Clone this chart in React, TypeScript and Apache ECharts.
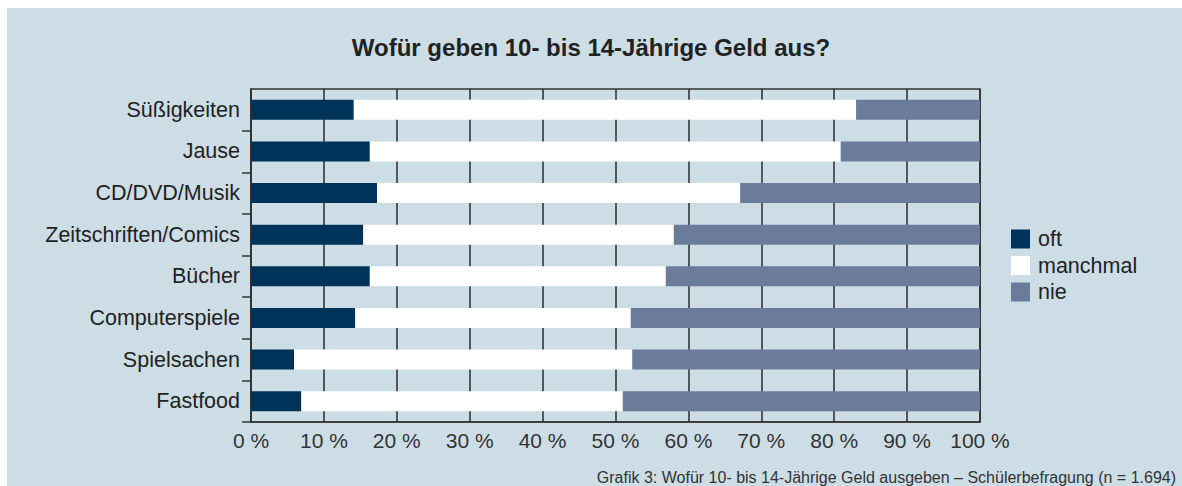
import React, { useEffect, useRef } from "react";
import * as echarts from "echarts";

const categories = [
  "Süßigkeiten",
  "Jause",
  "CD/DVD/Musik",
  "Zeitschriften/Comics",
  "Bücher",
  "Computerspiele",
  "Spielsachen",
  "Fastfood",
];
const oft = [14.1, 16.3, 17.3, 15.4, 16.3, 14.3, 5.9, 6.9];
const manchmal = [68.9, 64.6, 49.8, 42.6, 40.6, 37.8, 46.4, 44.1];
const nie = [17.0, 19.1, 32.9, 42.0, 43.1, 47.9, 47.7, 49.0];
const xTicks = [0, 10, 20, 30, 40, 50, 60, 70, 80, 90, 100];

const FONT = "Liberation Sans, Arial, Helvetica, sans-serif";

export default function App() {
  const ref = useRef<HTMLDivElement>(null);
  useEffect(() => {
    document.body.style.margin = "0";
    const chart = echarts.init(ref.current!, null, { renderer: "svg" });
    chart.setOption({
      animation: false,
      backgroundColor: "#ffffff",
      textStyle: { fontFamily: FONT },
      graphic: [
        {
          type: "rect",
          z: -10,
          silent: true,
          shape: { x: 7, y: 8, width: 1182 - 7, height: 486 - 8 },
          style: { fill: "#ccdde6" },
        },
      ],
      title: [
        {
          text: "Wofür geben 10- bis 14-Jährige Geld aus?",
          left: "center",
          top: 30,
          textStyle: { fontSize: 24, fontWeight: "bold", color: "#222", fontFamily: FONT },
        },
        {
          text: "Grafik 3: Wofür 10- bis 14-Jährige Geld ausgeben – Schülerbefragung (n = 1.694)",
          right: 6,
          top: 469,
          padding: 0,
          textStyle: { fontSize: 16, fontWeight: "normal", color: "#333", fontFamily: FONT },
        },
      ],
      legend: {
        orient: "vertical",
        left: 1011,
        top: 228,
        itemWidth: 19,
        itemHeight: 19,
        itemGap: 4.5,
        padding: 0,
        icon: "rect",
        textStyle: { fontSize: 21.5, color: "#222", fontFamily: FONT, padding: [0, 0, 0, 3] },
        data: ["oft", "manchmal", "nie"],
      },
      grid: {
        left: 251,
        right: 202,
        top: 89,
        bottom: 64,
        show: true,
        borderColor: "#333",
        borderWidth: 1.5,
        backgroundColor: "transparent",
      },
      xAxis: {
        type: "value",
        min: xTicks[0],
        max: xTicks[xTicks.length - 1],
        interval: 10,
        axisLine: { show: true, lineStyle: { color: "#333", width: 1.5 } },
        axisTick: { show: false },
        splitLine: { show: true, lineStyle: { color: "#2a2a2a", width: 1.5 } },
        axisLabel: {
          formatter: "{value} %",
          fontSize: 21,
          color: "#333",
          margin: 8,
          fontFamily: FONT,
        },
      },
      yAxis: {
        type: "category",
        data: categories,
        inverse: true,
        axisLine: { show: true, lineStyle: { color: "#333", width: 1.5 } },
        axisTick: {
          show: true,
          length: 9,
          interval: (idx: number) => idx !== 0,
          lineStyle: { color: "#333", width: 1.5 },
        },
        axisLabel: { fontSize: 21.5, color: "#222", margin: 11, fontFamily: FONT },
        splitLine: { show: false },
      },
      series: [
        {
          name: "oft",
          type: "bar",
          stack: "total",
          barWidth: 20,
          data: oft,
          itemStyle: { color: "#003359" },
        },
        {
          name: "manchmal",
          type: "bar",
          stack: "total",
          barWidth: 20,
          data: manchmal,
          itemStyle: { color: "#ffffff" },
        },
        {
          name: "nie",
          type: "bar",
          stack: "total",
          barWidth: 20,
          data: nie,
          itemStyle: { color: "#6b7c9b" },
        },
      ],
    });
    return () => chart.dispose();
  }, []);
  return <div ref={ref} style={{ width: 1182, height: 486 }} />;
}
